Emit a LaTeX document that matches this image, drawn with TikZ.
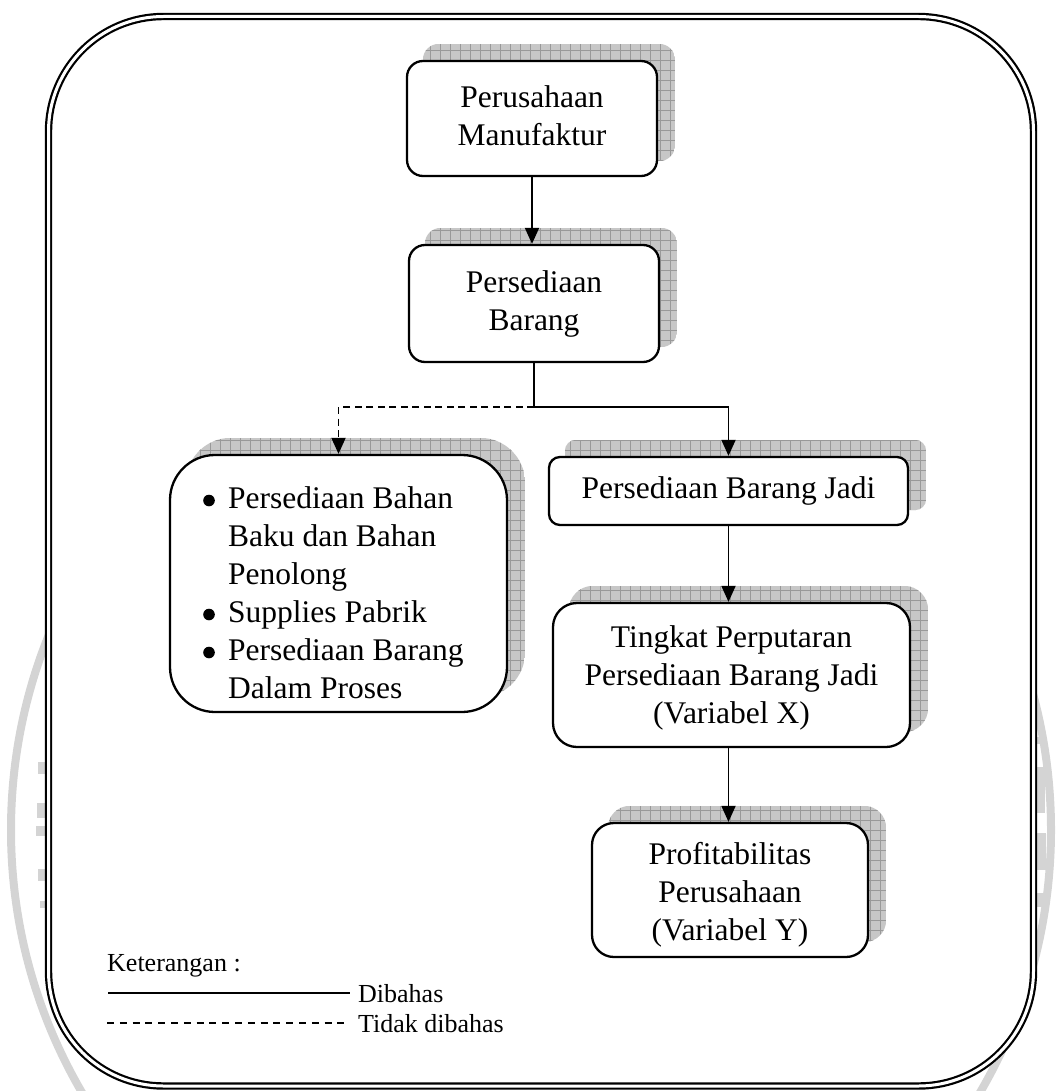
\documentclass[tikz,border=0pt]{standalone}
\usepackage{fontspec}
\setmainfont{Liberation Serif}
\usetikzlibrary{arrows.meta}
\pgfdeclarelayer{bgA}
\pgfdeclarelayer{bgB}
\pgfsetlayers{bgA,bgB,main}
\tikzset{
  bx/.style={draw, line width=2.3pt, fill=white, inner sep=0pt, align=center,
             font=\fontsize{31.5pt}{38pt}\selectfont},
  conn/.style={line width=1.9pt},
  arrowed/.style={-{Triangle[length=16pt,width=14pt]}},
  shadowfill/.style={fill=black!22},
  gridln/.style={draw=black!40, line width=0.8pt},
  wm/.style={draw=black!17, line width=8pt},
  wmmark/.style={fill=black!17},
  frame/.style={draw, line width=2.2pt, double=white, double distance=3pt,
                fill=white, rounded corners=115pt},
  leg/.style={font=\fontsize{26pt}{30.5pt}\selectfont, inner ysep=0pt},
  bul/.style={fill=black}
}
\newcommand\boxshadow[2]{%
  \begin{pgfonlayer}{bgB}
    \path ([shift={(17,-16)}]#1.south west) coordinate (s1)
          ([shift={(17,-16)}]#1.north east) coordinate (s2);
    \begin{scope}
      \clip[rounded corners=#2] (s1) rectangle (s2);
      \fill[shadowfill] (s1) rectangle (s2);
      \draw[gridln, step=10pt] (s1) grid (s2);
    \end{scope}
  \end{pgfonlayer}}
\begin{document}
\begin{tikzpicture}[x=1pt, y=-1pt]
\useasboundingbox (0,0) rectangle (1061,1091);

% watermark and frame
\begin{pgfonlayer}{bgA}
  \draw[wm] (531,830) circle[radius=520pt];
  \fill[wmmark] (38,762) rectangle (47,774);
  \fill[wmmark] (37,803) rectangle (47,818);
  \fill[wmmark] (36,826) rectangle (46,836);
  \fill[wmmark] (38,869) rectangle (47,881);
  \fill[wmmark] (40,901) rectangle (46,908);
  \fill[wmmark] (1036,737) rectangle (1043,744);
  \fill[wmmark] (1036,767) rectangle (1045,813);
  \fill[wmmark] (1036,833) rectangle (1046,870);
  \fill[wmmark] (1036,893) rectangle (1045,907);
  \path[frame] (48.5,16.5) rectangle (1033.5,1086);
\end{pgfonlayer}

% boxes
\node[bx, minimum width=250pt, minimum height=115pt, rounded corners=16pt] (B1) at (532,118.5)
  {\strut Perusahaan\\ \strut Manufaktur};
\node[bx, minimum width=250pt, minimum height=117pt, rounded corners=16pt] (B2) at (534,303.5)
  {\strut Persediaan\\ \strut Barang};
\node[bx, minimum width=337pt, minimum height=257pt, rounded corners=45pt] (L) at (338.5,583.5) {};
\node[anchor=north west, inner sep=0pt, font=\fontsize{31.5pt}{38pt}\selectfont] (Ltx) at (228,481.4)
  {\begin{tabular}{@{}l@{}}
   Persediaan Bahan\\
   Baku dan Bahan\\
   Penolong\\
   Supplies Pabrik\\
   Persediaan Barang\\
   Dalam Proses
   \end{tabular}};
\fill[bul] (209,500.5) circle[radius=5.8pt];
\fill[bul] (209,614.5) circle[radius=5.8pt];
\fill[bul] (209,652.5) circle[radius=5.8pt];
\node[bx, minimum width=359pt, minimum height=68pt, rounded corners=11pt] (J) at (728.5,491)
  {\strut Persediaan Barang Jadi};
\node[bx, minimum width=357pt, minimum height=144pt, rounded corners=24pt] (T) at (731.5,675)
  {\rule{0pt}{33pt}Tingkat Perputaran\\ \strut Persediaan Barang Jadi\\ \strut (Variabel X)};
\node[bx, minimum width=276pt, minimum height=134pt, rounded corners=22pt] (P) at (730,890)
  {\rule{0pt}{37pt}Profitabilitas\\ \strut Perusahaan\\ \strut (Variabel Y)};

% shadows
\boxshadow{B1}{16pt}
\boxshadow{B2}{16pt}
\boxshadow{L}{45pt}
\boxshadow{J}{11pt}
\boxshadow{T}{24pt}
\boxshadow{P}{22pt}

% connectors
\coordinate (jn) at (534,407);
\draw[conn, arrowed] (B1.south) -- (B1.south |- B2.north);
\draw[conn] (B2.south) -- (jn);
\draw[conn, arrowed] (jn) -| (J.north);
\draw[conn, arrowed, dash pattern=on 7pt off 4.5pt] (jn) -| (L.north);
\draw[conn, arrowed] (J.south) -- (J.south |- T.north);
\draw[conn, arrowed] (J.south |- T.south) -- (J.south |- P.north);

% legend
\node[leg, anchor=base west, inner xsep=0pt] (K) at (107,971) {Keterangan :};
\node[leg, anchor=base west, inner xsep=8pt] (D1) at (350,1002) {Dibahas};
\node[leg, anchor=base west, inner xsep=8pt] (D2) at (350,1032) {Tidak dibahas};
\coordinate (la) at (108,993);
\coordinate (lb) at (107,1023);
\draw[line width=1.8pt] (la) -- (la -| D1.west);
\draw[line width=1.2pt, dash pattern=on 7pt off 5.8pt] (lb) -- (lb -| D2.west);
\end{tikzpicture}
\end{document}
